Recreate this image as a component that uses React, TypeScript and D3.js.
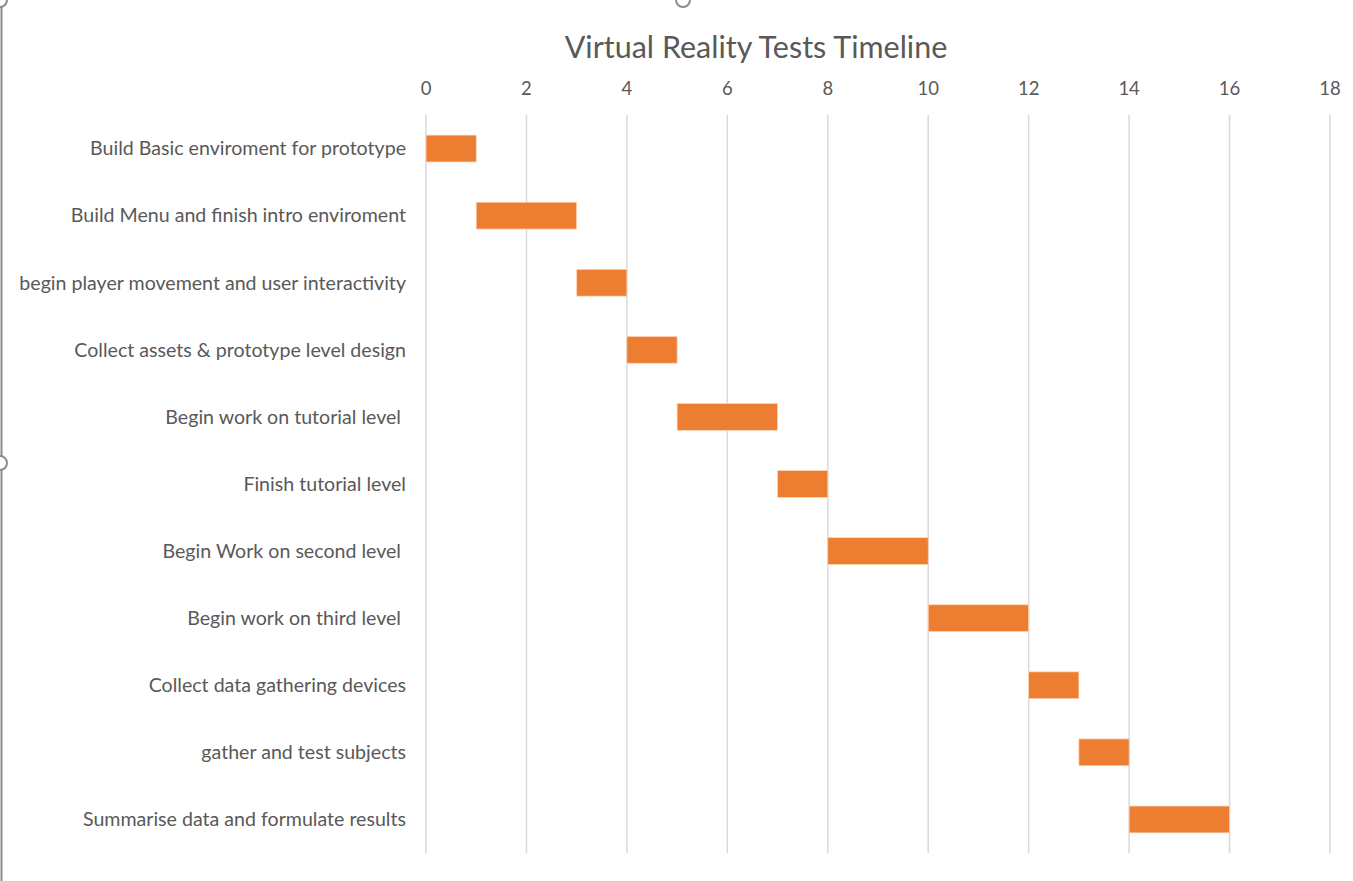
import React from "react";
import * as d3 from "d3";

// task data
const tasks = [
  "Build Basic enviroment for prototype",
  "Build Menu and finish intro enviroment",
  "begin player movement and user interactivity",
  "Collect assets & prototype level design",
  "Begin work on tutorial level ",
  "Finish tutorial level",
  "Begin Work on second level ",
  "Begin work on third level ",
  "Collect data gathering devices",
  "gather and test subjects",
  "Summarise data and formulate results",
];
const startDay = [0, 1, 3, 4, 5, 7, 8, 10, 12, 13, 14];
const duration = [1, 2, 1, 1, 2, 1, 2, 2, 1, 1, 2];
const xTicks = [0, 2, 4, 6, 8, 10, 12, 14, 16, 18];

const W = 1353;
const H = 881;
const margin = { top: 115, right: 23, bottom: 28, left: 426 };
const FONT = "Lato, 'Open Sans', sans-serif";

const App = () => {
  const x = d3.scaleLinear().domain([0, 18]).range([margin.left, W - margin.right]);
  const y = d3
    .scaleBand<number>()
    .domain(d3.range(tasks.length))
    .range([margin.top, H - margin.bottom])
    .paddingInner(0.6)
    .paddingOuter(0.3);

  return (
    <svg
      width={W}
      height={H}
      style={{ position: "absolute", left: 0, top: 0, background: "#fff" }}
      fontFamily={FONT}
    >
      {/* excel selection frame */}
      <line x1={1.5} x2={1.5} y1={0} y2={H} stroke="#8c8c8c" strokeWidth={2} />
      {[
        [0, 0],
        [683, 0],
        [0, 463],
      ].map(([cx, cy], i) => (
        <circle key={i} cx={cx} cy={cy} r={7} fill="#fff" stroke="#8c8c8c" strokeWidth={2} />
      ))}

      <text x={756} y={58} textAnchor="middle" fontSize={30.5} fill="#595959">
        Virtual Reality Tests Timeline
      </text>

      {xTicks.map((t) => (
        <g key={t}>
          <line x1={x(t)} x2={x(t)} y1={margin.top} y2={H - margin.bottom} stroke="#d9d9d9" strokeWidth={1.5} />
          <text x={x(t)} y={95} textAnchor="middle" fontSize={18.5} fill="#595959">
            {t}
          </text>
        </g>
      ))}

      {tasks.map((name, i) => (
        <g key={i}>
          <text
            x={406}
            y={(y(i) as number) + y.bandwidth() / 2}
            dy="0.35em"
            textAnchor="end"
            fontSize={19.6}
            fill="#595959"
            style={{ whiteSpace: "pre" }}
          >
            {name}
          </text>
          <rect
            x={x(startDay[i])}
            y={y(i)}
            width={x(startDay[i] + duration[i]) - x(startDay[i])}
            height={y.bandwidth()}
            fill="#ed7d31"
            stroke="#fbd6bd"
            strokeWidth={0.75}
          />
        </g>
      ))}
    </svg>
  );
};

export default App;
